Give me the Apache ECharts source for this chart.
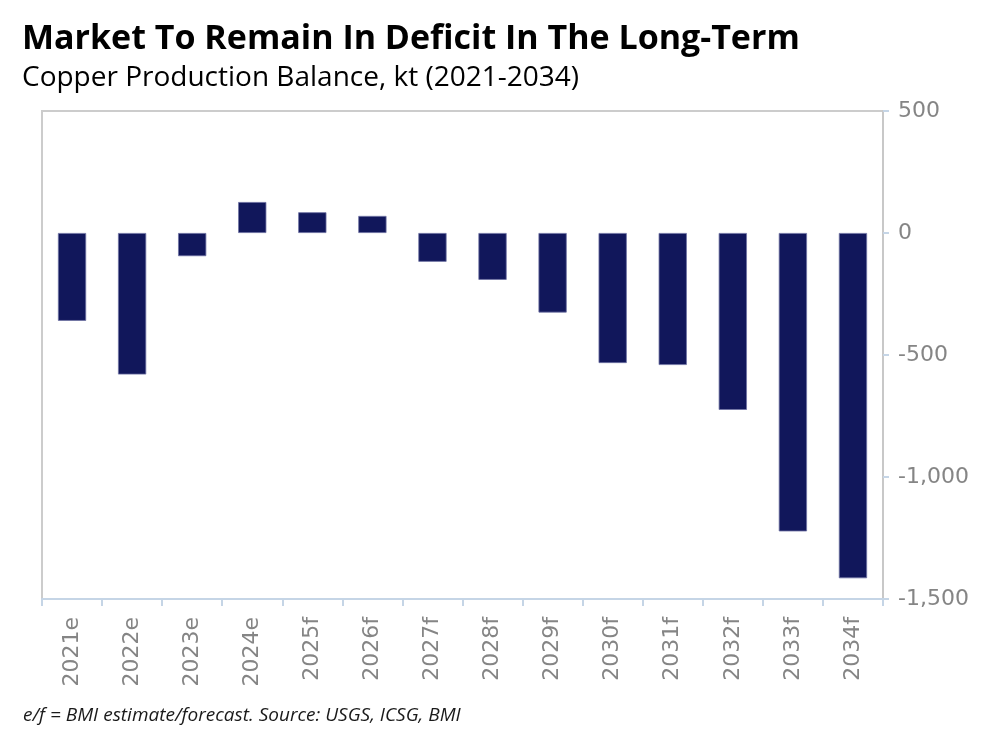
<!DOCTYPE html>
<html>
<head>
<meta charset="utf-8">
<script src="https://cdn.jsdelivr.net/npm/echarts@6/dist/echarts.min.js"></script>
<style>
html,body{margin:0;padding:0;background:#fff;}
#chart{width:1002px;height:734px;}
</style>
</head>
<body>
<div id="chart"></div>
<script>
const categories = ['2021e','2022e','2023e','2024e','2025f','2026f','2027f','2028f','2029f','2030f','2031f','2032f','2033f','2034f'];
const balance = [-360, -580, -95, 127, 85, 70, -118, -192, -326, -533, -541, -725, -1223, -1415];
const yTicks = {min: -1500, max: 500, interval: 500};
const titleText = 'Market To Remain In Deficit In The Long-Term';
const subtitleText = 'Copper Production Balance, kt (2021-2034)';
const footnoteText = 'e/f = BMI estimate/forecast. Source: USGS, ICSG, BMI';

const chart = echarts.init(document.getElementById('chart'), null, {renderer: 'canvas'});
chart.setOption({
  backgroundColor: '#ffffff',
  animation: false,
  title: [
    {text: titleText, left: 17, top: 12,
     textStyle: {fontFamily: 'Open Sans', fontWeight: 'bold', fontSize: 34, color: '#000', lineHeight: 44}},
    {text: subtitleText, left: 17, top: 55,
     textStyle: {fontFamily: 'Open Sans', fontWeight: 'normal', fontSize: 28, color: '#000', lineHeight: 36}},
    {text: footnoteText, left: 18, top: 699,
     textStyle: {fontFamily: 'Open Sans', fontStyle: 'italic', fontWeight: 'normal', fontSize: 19, color: '#1a1a1a', lineHeight: 24}}
  ],
  grid: {left: 42, right: 119, top: 111, bottom: 135, show: true, borderColor: '#cccccc', borderWidth: 2, backgroundColor: 'transparent'},
  xAxis: {
    type: 'category',
    data: categories,
    position: 'bottom',
    axisLine: {show: true, onZero: false, lineStyle: {color: '#c5d5e6', width: 2}},
    axisTick: {show: true, interval: 0, length: 7, alignWithLabel: false, lineStyle: {color: '#c5d5e6', width: 2}},
    axisLabel: {interval: 0, rotate: 90, margin: 18, color: '#858585', fontFamily: 'DejaVu Sans', fontSize: 22},
    splitLine: {show: false}
  },
  yAxis: {
    type: 'value',
    position: 'right',
    min: yTicks.min, max: yTicks.max, interval: yTicks.interval,
    axisLine: {show: true, lineStyle: {color: '#c8c8c8', width: 2}},
    axisTick: {show: true, length: 6, lineStyle: {color: '#c5d5e6', width: 2}},
    axisLabel: {margin: 15, color: '#858585', fontFamily: 'DejaVu Sans', fontSize: 22,
      formatter: v => v.toLocaleString('en-US')},
    splitLine: {show: false}
  },
  series: [{
    type: 'bar',
    data: balance,
    barWidth: '47%',
    itemStyle: {color: '#11175b', borderColor: '#6e72a3', borderWidth: 0.8}
  }]
});
</script>
</body>
</html>
